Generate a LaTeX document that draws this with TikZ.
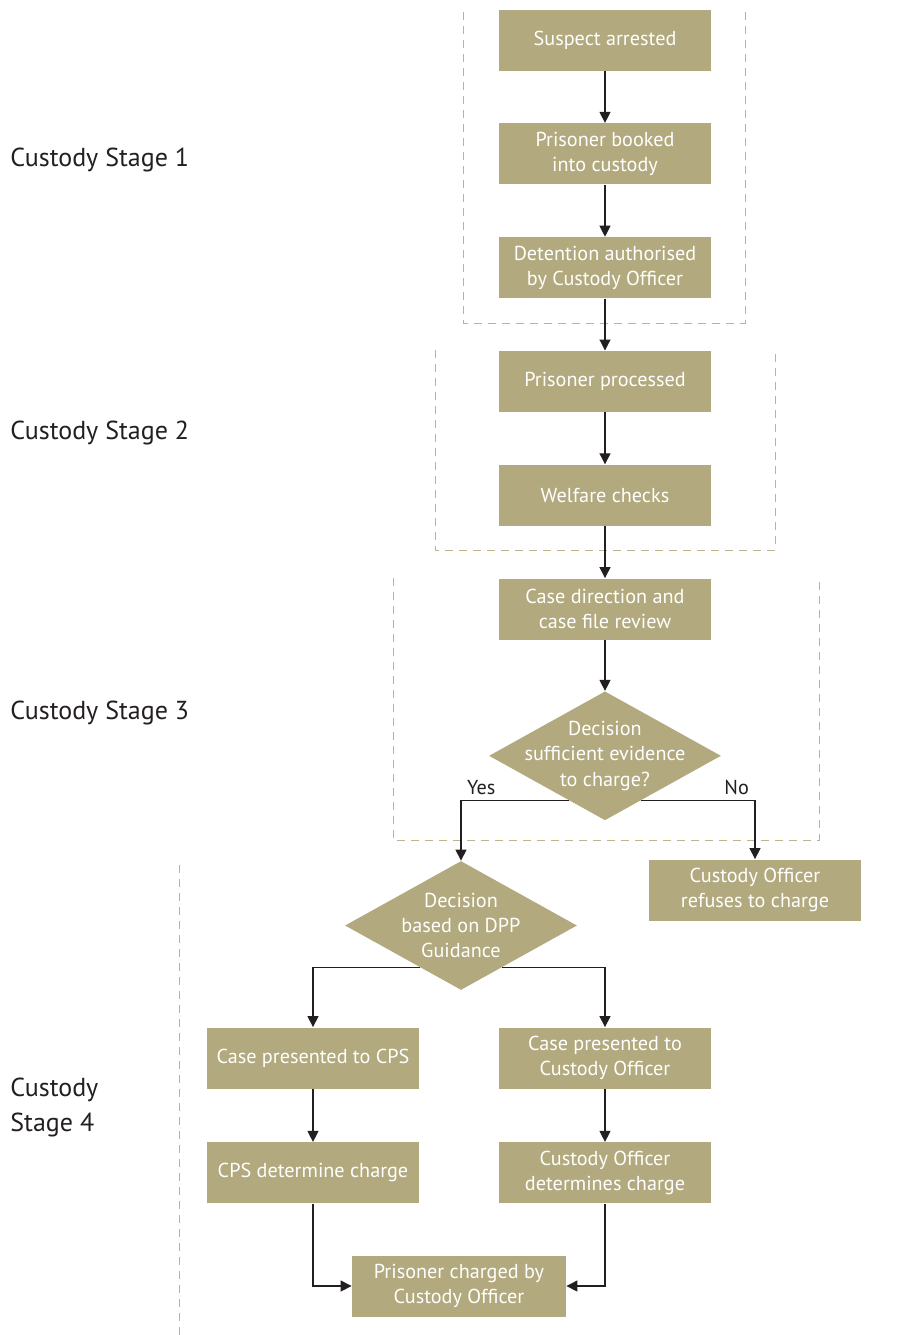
\documentclass[tikz,border=0pt]{standalone}
\usepackage{xcolor}
\usepackage{fontspec}
\setmainfont{PT Sans}
\usepackage{tikz}
\usetikzlibrary{shapes.geometric, arrows.meta, positioning, calc}
\definecolor{khaki}{HTML}{B2A97E}
\definecolor{dashkhaki}{HTML}{BDB48C}
\definecolor{inkdark}{HTML}{231F20}
\tikzstyle{process} = [rectangle, minimum width=106pt, minimum height=30.5pt, inner sep=0pt, text centered, align=center, fill=khaki, text=white, font=\fontsize{10.1}{12.6}\selectfont]
\tikzstyle{decision} = [diamond, minimum width=116pt, minimum height=64.5pt, inner sep=0pt, fill=khaki]
\tikzstyle{decisiontext} = [text=white, align=center, font=\fontsize{10.1}{12.6}\selectfont]
\tikzstyle{arrow} = [line width=0.55pt, draw=inkdark, -{Triangle[length=5.5pt,width=5.5pt]}]
\tikzstyle{stagebox} = [line width=0.5pt, draw=dashkhaki, dash pattern=on 4pt off 3pt]
\tikzstyle{stagelabel} = [anchor=west, align=left, text=inkdark, inner sep=0pt, font=\fontsize{13}{17.5}\selectfont]
\tikzstyle{yesno} = [text=inkdark, inner sep=2.8pt, font=\fontsize{10.1}{11}\selectfont]

\begin{document}
\begin{tikzpicture}[x=0.5pt, y=-0.5pt]
    \useasboundingbox (0,0) rectangle (917,1335);

    % Stage frames
    \draw[stagebox] (463,12) -- (463,323) -- (745,323) -- (745,12);
    \draw[stagebox] (435,350) -- (435,550) -- (775,550) -- (775,350);
    \draw[stagebox] (393,578) -- (393,840) -- (819,840) -- (819,578);
    \draw[stagebox] (179,865) -- (179,1335);

    % Stage labels
    \node[stagelabel] (stageone) at (10,160) {Custody Stage 1};
    \node[stagelabel] (stagetwo) at (10,433) {Custody Stage 2};
    \node[stagelabel] (stagethree) at (10,713) {Custody Stage 3};
    \node[stagelabel] (stagefour) at (10,1107) {Custody\\Stage 4};

    % Components
    \node[process] (arrested) at (605,40) {Suspect arrested};
    \node[process, below=26pt of arrested] (booked) {Prisoner booked\\into custody};
    \node[process, below=26pt of booked] (authorised) {Detention authorised\\by Custody Officer};
    \node[process, below=26pt of authorised] (processed) {Prisoner processed};
    \node[process, below=26pt of processed] (welfare) {Welfare checks};
    \node[process, below=26pt of welfare] (review) {Case direction and\\case file review};
    \node[decision, below=25.5pt of review, label={[decisiontext]center:Decision\\sufficient evidence\\to charge?}] (evidence) {};

    \node[process] (refuses) at (755,890) {Custody Officer\\refuses to charge};
    \node[decision, label={[decisiontext]center:Decision\\based on DPP\\Guidance}] (guidance) at (461,925.5) {};

    \node[process] (tocps) at (313,1058) {Case presented to CPS};
    \node[process] (toofficer) at (605,1058) {Case presented to\\Custody Officer};
    \node[process, below=26.5pt of tocps] (cpscharge) {CPS determine charge};
    \node[process, below=26.5pt of toofficer] (officercharge) {Custody Officer\\determines charge};
    \node[process, minimum width=107pt] (charged) at (459,1286) {Prisoner charged by\\Custody Officer};

    % Connections
    \draw[arrow] (arrested) -- (booked);
    \draw[arrow] (booked) -- (authorised);
    \draw[arrow] (authorised) -- (processed);
    \draw[arrow] (processed) -- (welfare);
    \draw[arrow] (welfare) -- (review);
    \draw[arrow] (review) -- (evidence);
    \draw[arrow] ($(evidence.south)!0.31!(evidence.west)$) -| node[pos=0.5, above right, yesno] {Yes} (guidance.north);
    \draw[arrow] ($(evidence.south)!0.31!(evidence.east)$) -| node[pos=0.5, above left, yesno] {No} (refuses.north);
    \draw[arrow] ($(guidance.south)!0.35!(guidance.west)$) -| (tocps.north);
    \draw[arrow] ($(guidance.south)!0.35!(guidance.east)$) -| (toofficer.north);
    \draw[arrow] (tocps) -- (cpscharge);
    \draw[arrow] (toofficer) -- (officercharge);
    \draw[arrow] (cpscharge.south) |- (charged.west);
    \draw[arrow] (officercharge.south) |- (charged.east);

\end{tikzpicture}
\end{document}
